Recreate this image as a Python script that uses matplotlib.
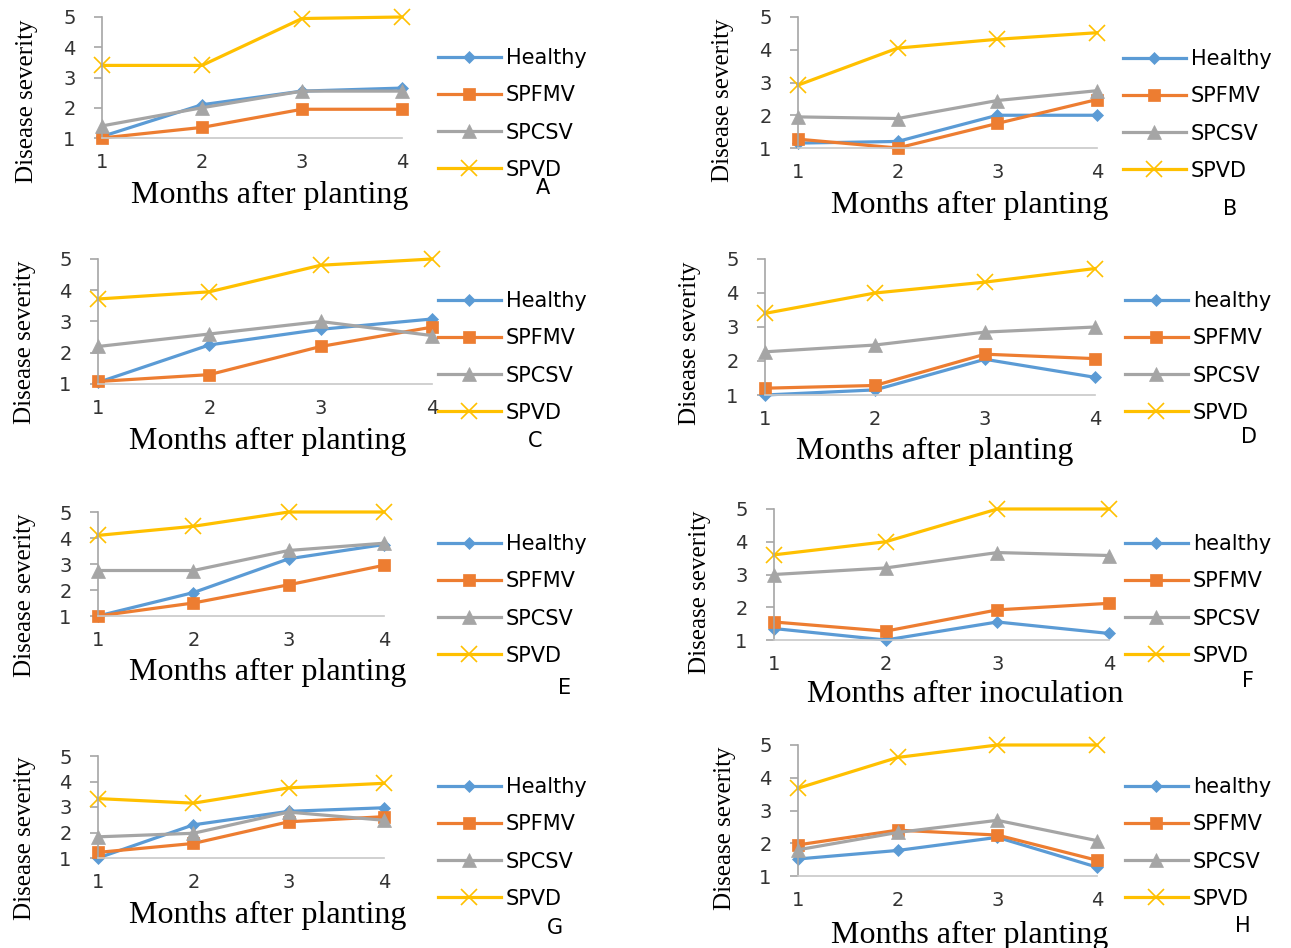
# Disease severity over time, eight panels (A-H)

import matplotlib
matplotlib.use('Agg')
import matplotlib.pyplot as plt

W, H = 1291, 948

months = [1, 2, 3, 4]
severity_ticks = [1, 2, 3, 4, 5]

# panel A
a_healthy = [1.05, 2.1, 2.55, 2.65]
a_spfmv = [1.0, 1.35, 1.95, 1.95]
a_spcsv = [1.4, 2.0, 2.55, 2.55]
a_spvd = [3.4, 3.4, 4.95, 5.0]
# panel B
b_healthy = [1.15, 1.2, 2.0, 2.0]
b_spfmv = [1.27, 1.0, 1.75, 2.48]
b_spcsv = [1.95, 1.9, 2.45, 2.75]
b_spvd = [2.92, 4.05, 4.32, 4.52]
# panel C
c_healthy = [1.05, 2.25, 2.75, 3.08]
c_spfmv = [1.08, 1.3, 2.2, 2.82]
c_spcsv = [2.2, 2.6, 3.0, 2.55]
c_spvd = [3.72, 3.95, 4.8, 5.0]
# panel D
d_healthy = [1.0, 1.15, 2.05, 1.52]
d_spfmv = [1.2, 1.28, 2.2, 2.07]
d_spcsv = [2.27, 2.47, 2.85, 3.0]
d_spvd = [3.4, 4.0, 4.32, 4.72]
# panel E
e_healthy = [1.0, 1.9, 3.2, 3.75]
e_spfmv = [1.0, 1.5, 2.2, 2.95]
e_spcsv = [2.75, 2.75, 3.52, 3.8]
e_spvd = [4.1, 4.45, 5.0, 5.0]
# panel F
f_healthy = [1.35, 1.0, 1.55, 1.2]
f_spfmv = [1.55, 1.27, 1.92, 2.12]
f_spcsv = [3.0, 3.2, 3.67, 3.58]
f_spvd = [3.6, 4.0, 5.0, 5.0]
# panel G
g_healthy = [1.0, 2.3, 2.83, 2.97]
g_spfmv = [1.22, 1.57, 2.42, 2.62]
g_spcsv = [1.83, 1.97, 2.8, 2.48]
g_spvd = [3.33, 3.15, 3.75, 3.93]
# panel H
h_healthy = [1.52, 1.78, 2.18, 1.27]
h_spfmv = [1.95, 2.4, 2.25, 1.48]
h_spcsv = [1.8, 2.33, 2.7, 2.08]
h_spvd = [3.68, 4.62, 5.0, 5.0]

# colours / markers of the four series
colors = ['#5B9BD5', '#ED7D31', '#A5A5A5', '#FFC000']
markers = ['D', 's', '^', 'x']
msizes = [6.5, 8.5, 9.5, 12]

# per panel: letter, data, healthy label, x label,
# axes box in pixels (x of month 1, x of month 4, y of 5, y of 1),
# legend pos (line start x, centre y), ylabel pos, xlabel pos, letter pos
panels = [
    ('A', [a_healthy, a_spfmv, a_spcsv, a_spvd], 'Healthy', 'Months after planting',
     (102, 402, 17, 138), (438, 114), (27, 101), (270, 195), (543, 188)),
    ('B', [b_healthy, b_spfmv, b_spcsv, b_spvd], 'Healthy', 'Months after planting',
     (798, 1097, 17, 148), (1123, 115), (723, 100), (970, 205), (1230, 209)),
    ('C', [c_healthy, c_spfmv, c_spcsv, c_spvd], 'Healthy', 'Months after planting',
     (98, 432, 259, 384), (438, 357), (25, 342), (268, 441), (535, 441)),
    ('D', [d_healthy, d_spfmv, d_spcsv, d_spvd], 'healthy', 'Months after planting',
     (765, 1095, 259, 395), (1125, 357), (690, 343), (935, 451), (1249, 437)),
    ('E', [e_healthy, e_spfmv, e_spcsv, e_spvd], 'Healthy', 'Months after planting',
     (98, 384, 512, 616), (438, 600), (25, 595), (268, 672), (565, 688)),
    ('F', [f_healthy, f_spfmv, f_spcsv, f_spvd], 'healthy', 'Months after inoculation',
     (774, 1109, 509, 640), (1125, 600), (700, 592), (965, 694), (1248, 681)),
    ('G', [g_healthy, g_spfmv, g_spcsv, g_spvd], 'Healthy', 'Months after planting',
     (98, 384, 756, 858), (438, 843), (25, 838), (268, 915), (555, 928)),
    ('H', [h_healthy, h_spfmv, h_spcsv, h_spvd], 'healthy', 'Months after planting',
     (798, 1097, 745, 876), (1125, 843), (725, 828), (970, 935), (1243, 926)),
]

sans = 'DejaVu Sans'
serif = 'Liberation Serif'

fig = plt.figure(figsize=(W / 100, H / 100), dpi=100)


def fx(x):
    return x / W


def fy(y):
    return 1 - y / H


for letter, data, hname, xlab, box, leg, ylpos, xlpos, lpos in panels:
    x1, x4, y5, y1 = box
    ax = fig.add_axes([fx(x1), fy(y1), (x4 - x1) / W, (y1 - y5) / H])
    names = [hname, 'SPFMV', 'SPCSV', 'SPVD']
    for vals, name, c, m, ms in zip(data, names, colors, markers, msizes):
        ax.plot(months, vals, color=c, lw=2.3, marker=m, ms=ms,
                mew=1.2 if m == 'x' else 0.5, mec=c, label=name, clip_on=False)
    ax.set_xlim(1, 4)
    ax.set_ylim(1, 5)
    ax.set_xticks(months)
    ax.set_yticks(severity_ticks)
    ax.spines['top'].set_visible(False)
    ax.spines['right'].set_visible(False)
    ax.spines['left'].set_color('#A6A6A6')
    ax.spines['bottom'].set_color('#C8C8C8')
    ax.spines['left'].set_linewidth(1.2)
    ax.spines['bottom'].set_linewidth(1.2)
    ax.tick_params(axis='x', length=0, pad=11, labelsize=14, labelcolor='#333333')
    ax.tick_params(axis='y', length=6, width=1.2, color='#A6A6A6', pad=13,
                   labelsize=14, labelcolor='#333333')
    for t in ax.get_xticklabels() + ax.get_yticklabels():
        t.set_fontfamily(sans)
    ax.patch.set_alpha(0)

    lx, ly = leg
    ax.legend(loc='center left', bbox_to_anchor=(fx(lx), fy(ly)),
              bbox_transform=fig.transFigure, frameon=False,
              prop={'family': sans, 'size': 15}, handlelength=3.0,
              handletextpad=0.25, labelspacing=0.82, borderpad=0,
              borderaxespad=0)

    fig.text(fx(ylpos[0]), fy(ylpos[1]), 'Disease severity', rotation=90,
             ha='center', va='center', family=serif, fontsize=18)
    fig.text(fx(xlpos[0]), fy(xlpos[1]), xlab, ha='center', va='center',
             family=serif, fontsize=23)
    fig.text(fx(lpos[0]), fy(lpos[1]), letter, ha='center', va='center',
             family=sans, fontsize=15)

fig.savefig('out.png', dpi=100)
